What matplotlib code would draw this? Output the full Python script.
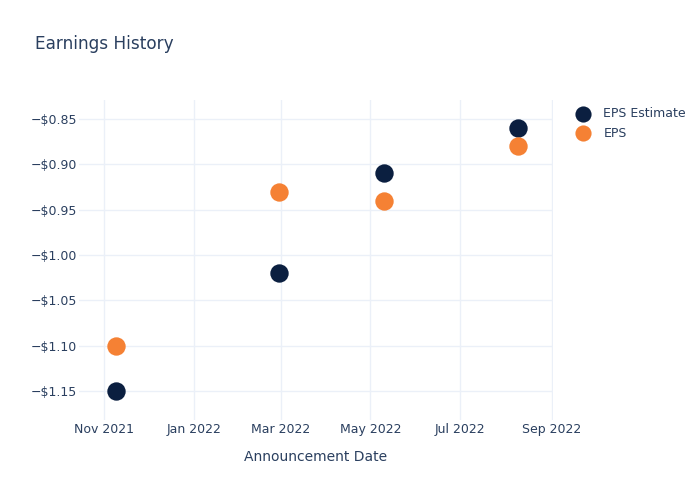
"""
Earnings history scatter: EPS estimate vs actual EPS.
"""

import matplotlib
matplotlib.use("Agg")
import matplotlib.pyplot as plt
import matplotlib.dates as mdates
import numpy as np

dates = np.array(["2021-11-09", "2022-02-28", "2022-05-10", "2022-08-09"], dtype="datetime64[D]")
eps_estimate = [-1.15, -1.02, -0.91, -0.86]
eps_actual = [-1.10, -0.93, -0.94, -0.88]

TEXT = "#2a3f5f"
GRID = "#ebf0f8"

fig = plt.figure(figsize=(7, 5), dpi=100)
ax = fig.add_axes([79 / 700, 80 / 500, 474 / 700, 320 / 500])

ax.scatter(dates, eps_estimate, s=175, color="#0b1f40", label="EPS Estimate", zorder=3, linewidths=0)
ax.scatter(dates, eps_actual, s=175, color="#f58134", label="EPS", zorder=3, linewidths=0)

ax.set_xlim(np.datetime64("2021-10-15"), np.datetime64("2022-09-02"))
ax.set_ylim(-1.182, -0.829)
ax.set_yticks([-1.15, -1.10, -1.05, -1.00, -0.95, -0.90, -0.85])
ax.yaxis.set_major_formatter(plt.FuncFormatter(lambda v, _: f"\u2212${abs(v):.2f}"))
ax.xaxis.set_major_locator(mdates.MonthLocator(bymonth=[1, 3, 5, 7, 9, 11]))
ax.xaxis.set_major_formatter(mdates.DateFormatter("%b %Y"))

ax.grid(True, color=GRID, lw=1)
ax.set_axisbelow(True)
for sp in ax.spines.values():
    sp.set_visible(False)
ax.tick_params(length=0, labelsize=9, colors=TEXT, pad=1.5)
ax.tick_params(axis="x", pad=2)

ax.set_xlabel("Announcement Date", fontsize=10, color=TEXT, labelpad=10)
fig.text(35 / 700, 1 - 44 / 500, "Earnings History", fontsize=12.2, color=TEXT, va="center")

ax.legend(loc="upper left", bbox_to_anchor=(1.014, 1.012), frameon=False, fontsize=9,
          labelcolor=TEXT, handletextpad=0.6, labelspacing=0.5, markerscale=0.88)

fig.savefig("out.png", dpi=100)
